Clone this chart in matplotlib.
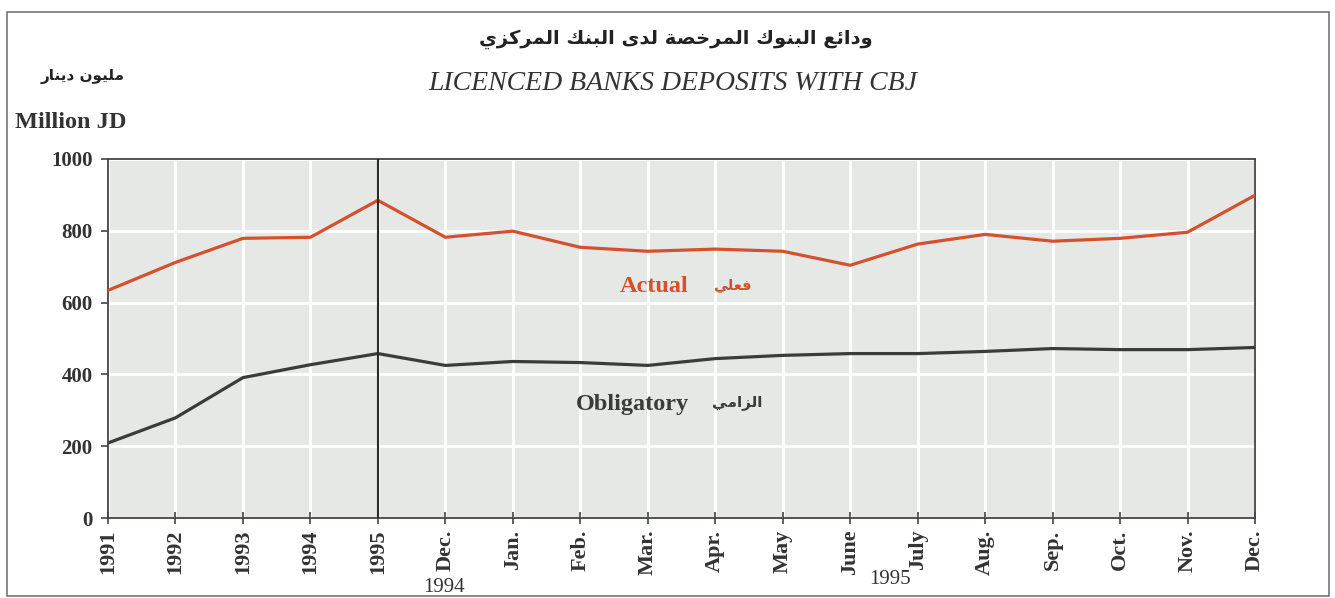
import matplotlib
matplotlib.use('Agg')
import matplotlib.pyplot as plt
from matplotlib.patches import Rectangle

# data (million JD)
labels = ['1991', '1992', '1993', '1994', '1995', 'Dec.', 'Jan.', 'Feb.', 'Mar.', 'Apr.',
          'May', 'June', 'July', 'Aug.', 'Sep.', 'Oct.', 'Nov.', 'Dec.']
actual = [634, 712, 779, 782, 885, 782, 799, 754, 743, 749, 743, 704, 763, 790, 771, 779, 796, 899]
obligatory = [209, 279, 391, 427, 458, 425, 436, 433, 425, 444, 453, 458, 458, 464, 472, 469, 469, 475]
yticks = [0, 200, 400, 600, 800, 1000]

title_ar = 'ودائع البنوك المرخصة لدى البنك المركزي'
title_en = 'LICENCED BANKS DEPOSITS WITH CBJ'
unit_ar = 'مليون دينار'
unit_en = 'Million JD'
actual_ar = 'فعلي'
oblig_ar = 'الزامي'

# simple arabic shaping (iso, final, initial, medial) since matplotlib has no bidi
FORMS = {
    'ا': (0xFE8D, 0xFE8E, None, None), 'ب': (0xFE8F, 0xFE90, 0xFE91, 0xFE92),
    'ة': (0xFE93, 0xFE94, None, None), 'خ': (0xFEA5, 0xFEA6, 0xFEA7, 0xFEA8),
    'د': (0xFEA9, 0xFEAA, None, None), 'ر': (0xFEAD, 0xFEAE, None, None),
    'ز': (0xFEAF, 0xFEB0, None, None), 'ص': (0xFEB9, 0xFEBA, 0xFEBB, 0xFEBC),
    'ع': (0xFEC9, 0xFECA, 0xFECB, 0xFECC), 'ف': (0xFED1, 0xFED2, 0xFED3, 0xFED4),
    'ك': (0xFED9, 0xFEDA, 0xFEDB, 0xFEDC), 'ل': (0xFEDD, 0xFEDE, 0xFEDF, 0xFEE0),
    'م': (0xFEE1, 0xFEE2, 0xFEE3, 0xFEE4), 'ن': (0xFEE5, 0xFEE6, 0xFEE7, 0xFEE8),
    'و': (0xFEED, 0xFEEE, None, None), 'ى': (0xFEEF, 0xFEF0, None, None),
    'ي': (0xFEF1, 0xFEF2, 0xFEF3, 0xFEF4), 'ئ': (0xFE89, 0xFE8A, 0xFE8B, 0xFE8C),
}


def shape(s):
    out = []
    for i, c in enumerate(s):
        if c not in FORMS:
            out.append(c)
            continue
        iso, fin, ini, med = FORMS[c]
        prev = s[i - 1] if i > 0 else None
        nxt = s[i + 1] if i + 1 < len(s) else None
        jp = prev in FORMS and FORMS[prev][2] is not None
        jn = nxt in FORMS and ini is not None
        if jp and jn:
            out.append(chr(med))
        elif jp:
            out.append(chr(fin))
        elif jn:
            out.append(chr(ini))
        else:
            out.append(chr(iso))
    return ''.join(out)[::-1]


serif = 'Liberation Serif'
ar_font = 'DejaVu Sans'
red = '#d4512e'
dark = '#3b3b3b'

fig = plt.figure(figsize=(13.35, 5.98), dpi=100)
ax = fig.add_axes([108 / 1335, 1 - 518 / 598, 1147 / 1335, 359 / 598])
ax.set_facecolor('#e5e8e5')

x = list(range(len(labels)))
ax.plot(x, actual, color=red, lw=2.3, zorder=3)
ax.plot(x, obligatory, color=dark, lw=2.3, zorder=3)
ax.axvline(4, color='#2a2a2a', lw=1.5, zorder=4)

ax.set_xlim(0, len(labels) - 1)
ax.set_ylim(0, 1000)
ax.set_xticks(x)
ax.set_xticklabels(labels, rotation=90, fontfamily=serif, fontweight='bold', fontsize=16, color='#333333')
ax.set_yticks(yticks)
ax.set_yticklabels([str(v) for v in yticks], fontfamily=serif, fontweight='bold', fontsize=15, color='#333333')
ax.tick_params(axis='x', direction='inout', length=9, width=1.2, color='#444444', pad=4)
ax.tick_params(axis='y', direction='out', length=5, width=1.2, color='#444444', pad=6)
ax.grid(True, color='white', lw=2)
ax.set_axisbelow(True)
for sp in ax.spines.values():
    sp.set_color('#444444')
    sp.set_linewidth(1.3)

ax.text(8.1, 645, 'Actual', color=red, fontfamily=serif, fontweight='bold', fontsize=17.5, ha='center', va='center')
ax.text(9.25, 649, shape(actual_ar), color=red, fontfamily=ar_font, fontweight='bold', fontsize=10.5, ha='center', va='center')
ax.text(7.78, 315, 'Obligatory', color=dark, fontfamily=serif, fontweight='bold', fontsize=17.5, ha='center', va='center')
ax.text(9.32, 323, shape(oblig_ar), color=dark, fontfamily=ar_font, fontweight='bold', fontsize=11, ha='center', va='center')

fig.text(676 / 1335, 1 - 39 / 598, shape(title_ar), fontfamily=ar_font, fontweight='bold', fontsize=14,
         color='#222222', ha='center', va='center')
fig.text(673 / 1335, 1 - 83 / 598, title_en, fontfamily=serif, fontstyle='italic', fontsize=20,
         color='#333333', ha='center', va='center')
fig.text(83 / 1335, 1 - 77 / 598, shape(unit_ar), fontfamily=ar_font, fontweight='bold', fontsize=11,
         color='#222222', ha='center', va='center')
fig.text(71 / 1335, 1 - 123 / 598, unit_en, fontfamily=serif, fontweight='bold', fontsize=17.5,
         color='#333333', ha='center', va='center')
fig.text(444 / 1335, 1 - 587 / 598, '1994', fontfamily=serif, fontsize=15, color='#333333', ha='center', va='center')
fig.text(890 / 1335, 1 - 580 / 598, '1995', fontfamily=serif, fontsize=15, color='#333333', ha='center', va='center')

fig.patches.append(Rectangle((7 / 1335, 2 / 598), 1322 / 1335, 584 / 598, transform=fig.transFigure,
                             fill=False, edgecolor='#777777', lw=1.2))

fig.savefig('out.png', dpi=100)
